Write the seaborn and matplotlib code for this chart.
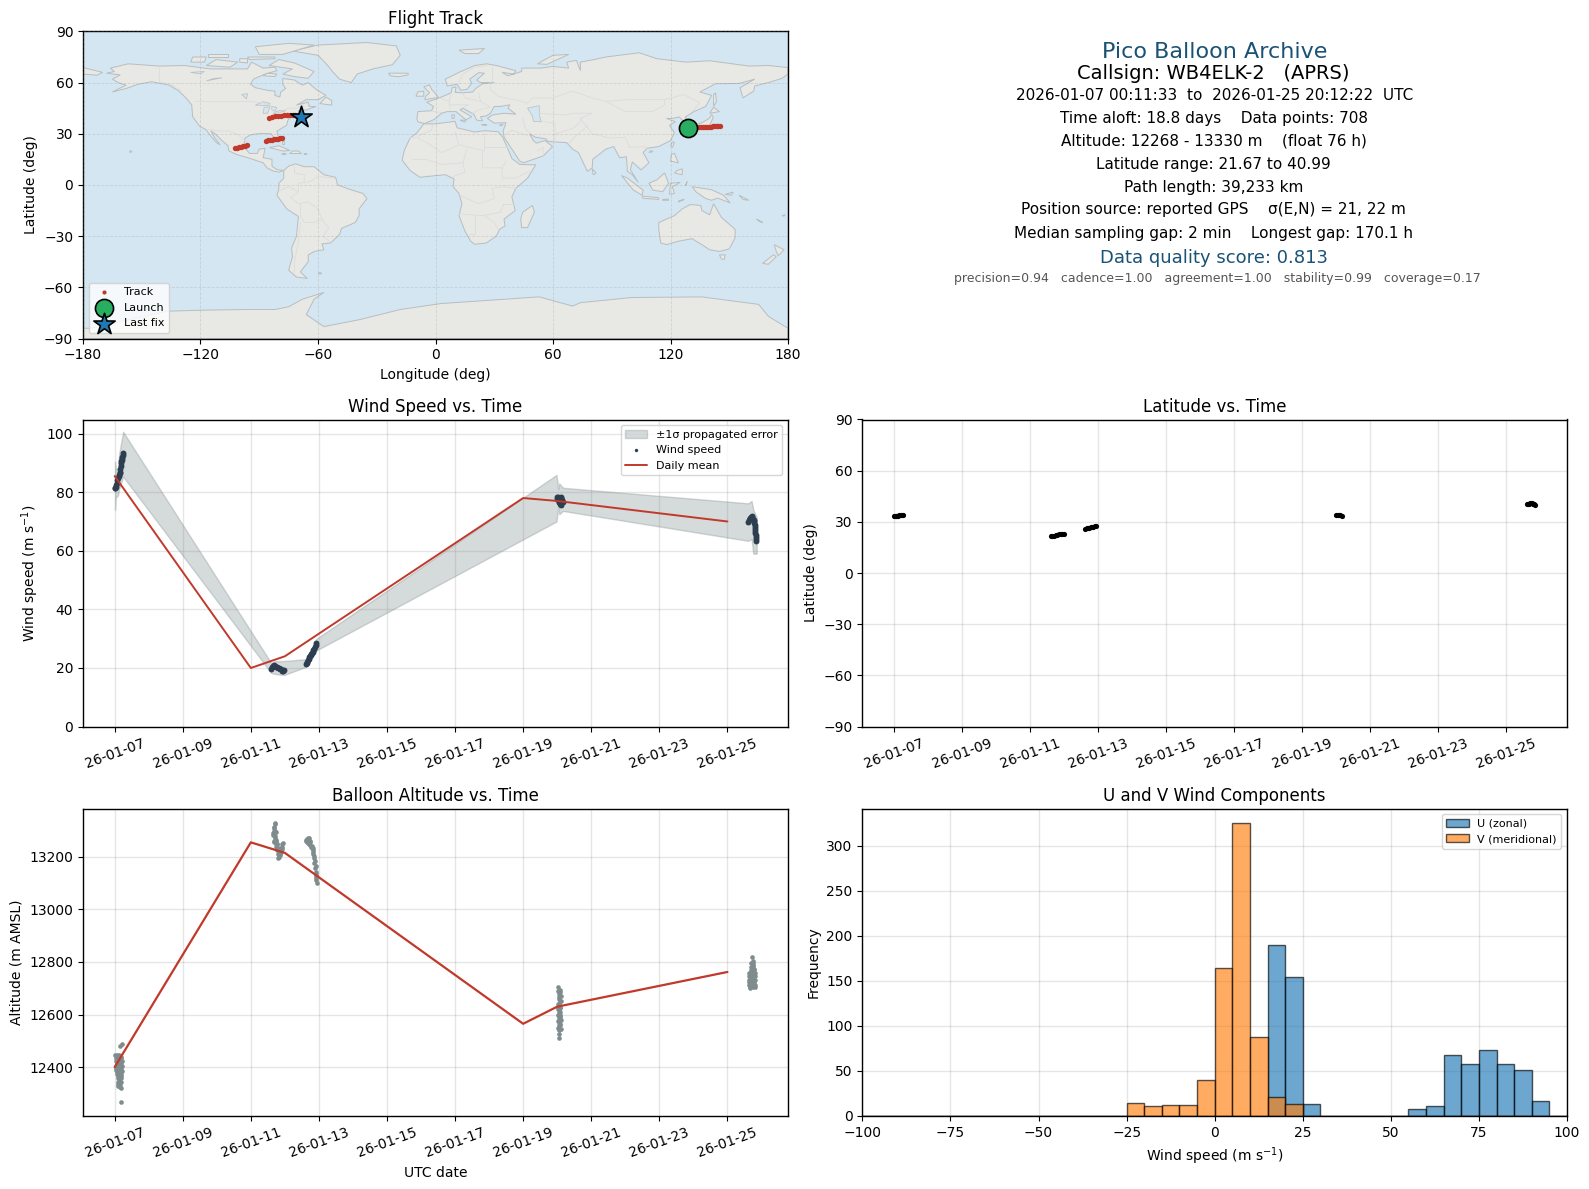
import numpy as np
import pandas as pd
import matplotlib
matplotlib.use('Agg')
import matplotlib.pyplot as plt
import matplotlib.dates as mdates
import seaborn as sns

# ---- land outlines (lon, lat) ----
north_america = [(-168,65.5),(-164,66.5),(-166,68.5),(-157,71),(-141,69.7),(-128,70),(-115,68),(-108,68),(-96,68),(-94,72),(-88,68.5),(-82,69),(-81,67),(-87,65),(-93,62),(-94.5,59),(-92,57),(-85,55.3),(-82,55),(-82,52.5),(-79.5,51.5),(-79,54.5),(-76.5,56.5),(-78,59),(-78,62.4),(-72,61.5),(-68,58.5),(-65,60),(-61,56),(-56,52.5),(-60,50),(-66,50),(-71,46.8),(-65,48.5),(-64.5,46),(-61,46),(-66,44),(-70,43.5),(-70,41.6),(-74,40.6),(-75.5,37.5),(-76,35),(-81,31.5),(-80,27),(-80.5,25.2),(-82.5,27.8),(-84,30),(-89,30.2),(-94,29.5),(-97.3,27.5),(-97.8,22.5),(-95,18.5),(-91,18.5),(-90,21),(-87,21.5),(-88,16),(-83.5,15),(-83.5,11),(-81,9),(-77.5,8.5),(-80,7.5),(-83,8.2),(-86,10),(-88,13),(-92,14.5),(-96,16),(-102,18),(-105.5,20),(-106,23),(-109.5,26.5),(-112.5,30),(-114.7,31.7),(-113,28),(-110,23.5),(-112,25),(-115,29),(-117.3,32.5),(-120.5,34.5),(-124,40),(-124.5,47),(-127,50.5),(-131,55),(-136,58.5),(-145,60.5),(-152,59),(-158,56.5),(-165,54.5),(-158,58.5),(-162,60),(-165,62),(-161,64.5)]
south_america = [(-77.5,8.5),(-75,11),(-71.5,12.4),(-67,10.7),(-62,10.7),(-57,6),(-51,4.5),(-50,0),(-44,-2.5),(-37,-5),(-35,-8),(-39,-14),(-39,-18),(-41,-22),(-48,-25.5),(-49,-29),(-53.5,-34),(-58,-34.5),(-57,-38),(-62,-39),(-65,-41),(-65,-45),(-69,-51),(-65.5,-54.8),(-71,-54),(-75,-50),(-73,-42),(-73.5,-37),(-71,-30),(-70,-18.5),(-76,-14),(-81,-6),(-80,-2.5),(-80,1),(-77.5,4)]
africa = [(-6,35.8),(0,35.8),(10,37.3),(11,33.5),(20,31),(25,31.8),(32,31.2),(34.3,28),(37,21),(39,15.5),(43,12),(51.2,11.8),(47,4),(41,-2),(39,-7),(40.7,-15),(35,-20),(35.5,-24),(32.8,-26),(31,-30),(26,-34),(20,-34.8),(18,-33),(15,-27),(12,-18),(13.5,-11),(12,-5),(9,-1),(9.5,3.5),(5,6),(-4,5),(-8,4.5),(-13,8.5),(-17,14.5),(-16,20),(-13,27.5),(-9.5,30.5)]
eurasia = [(-9,37),(-9.5,38.8),(-9,43),(-2,43.5),(-1,46),(-4.5,48.5),(1.5,50.8),(4,52),(8,54),(8.5,57),(10.5,57.5),(10,54.3),(14,54),(19,54.5),(21,57),(24,59.3),(30,60),(23,60),(21,61.5),(25,65.5),(22,65.8),(17.5,62),(18.5,59.5),(16,56),(13,55.5),(11,59),(6,58),(5,62),(12,66),(20,70),(26,71),(31,70),(41,67),(40,65),(34,66),(37,64),(44,66.5),(44,68.5),(54,68.5),(60,69.5),(68,68.5),(67,72),(72,73),(74,67),(74,72),(81,73.5),(87,75),(104,77.5),(113,74),(128,72),(140,72.8),(160,69.7),(170,70),(180,68.8),(180,65),(177,62.5),(170,60),(163,58),(162.5,55),(157,51),(155.5,57),(163,62),(155,59.5),(143,59.3),(135,54.5),(141,52.5),(138,46),(132,43),(127.5,39.8),(129.5,36),(126.5,34.5),(126.5,37.5),(124.5,39.8),(121,39),(118,39),(122.5,37),(119.5,35),(122,30.5),(120,26),(114,22.5),(108,21.5),(106,19),(109,13),(105,8.8),(100.5,13.5),(99.5,9),(103.5,1.5),(100.5,6),(98,8),(97.5,16.5),(94,16),(91,22.5),(87,21),(80.3,15),(80,10),(77.5,8),(73,19),(70,21),(67,24.8),(61,25.2),(57,25.7),(56.5,27),(51,28),(48,30),(50,26),(51.5,24.5),(56,26),(59.8,22.5),(55,17),(45,13),(43,14),(39,21),(35,28),(34.5,31.5),(36,36.5),(30,36.3),(26.5,39),(29,41),(35,42),(41,41.5),(37,45),(38,47),(33,46),(30,46),(28,42),(26,40.5),(23,40),(24,37.5),(21,38),(19.5,41.5),(14,45),(12.5,44),(18.5,40),(15.5,38.2),(10.5,43),(6,43),(3,42),(-0.5,38.5),(-5.5,36)]
australia = [(114,-22),(122,-18),(126,-14),(130,-11.5),(135.5,-12),(136,-15),(140,-17.5),(142,-11),(146,-19),(153,-26),(153,-31),(150,-37.5),(145,-39),(140,-38),(136,-35),(131,-31.5),(124,-33),(118,-35),(115,-34),(114,-26)]
antarctica = [(-180,-90),(-180,-84),(-176,-84),(-137,-74),(-119,-73.4),(-96,-73),(-82,-73),(-75,-71.4),(-68,-67),(-57,-63),(-62,-67),(-66,-76),(-57,-83),(-39,-79),(-18,-73),(3,-69.5),(53,-65.6),(70,-71),(74,-69),(100,-66),(136,-65.6),(165,-70),(170,-77),(180,-84),(180,-90)]
islands = [
    [(-73,78.5),(-60,82),(-35,83.5),(-20,81.5),(-18,76),(-22,70.5),(-32,68),(-40,65),(-43,60),(-49,62),(-53,67),(-55,70),(-60,76)],
    [(-80,73.5),(-72,71.5),(-62,66.5),(-65,62.5),(-72,63.5),(-78,65),(-73,68),(-85,70)],
    [(-117,70),(-105,69),(-101,72),(-112,73.5)],
    [(-90,76.5),(-78,76.5),(-62,82),(-75,83),(-92,81)],
    [(-125,72),(-118,72),(-117,75),(-124,75)],
    [(-96,75),(-82,75),(-82,74),(-95,73.5)],
    [(-116,75),(-106,75),(-106,76.5),(-116,76.5)],
    [(-100,72),(-96,71.5),(-96,74),(-100,74)],
    [(-88,64),(-82,63.5),(-81,65),(-86,65.5)],
    [(-59,47.7),(-53,46.8),(-53,49.5),(-56,51.5)],
    [(-84.8,21.9),(-80,23),(-74.3,20.2),(-78,19.9)],
    [(-74.4,18.4),(-68.5,18.4),(-70,19.9),(-73,19.9)],
    [(-78.5,18),(-76.3,18),(-77,18.5)],
    [(-67.2,18),(-65.6,18),(-66,18.5)],
    [(-78.5,24),(-77.5,24),(-77.5,26),(-78.5,26)],
    [(-156,19),(-155,19.5),(-156,20.2)],
    [(-60,-52),(-58,-52),(-59,-51.3)],
    [(49.5,-12),(50.5,-16),(47,-25),(44,-25),(43.5,-20),(44.5,-16)],
    [(-5.5,50),(1.5,51.3),(0,53.5),(-2,56),(-3,58.6),(-6,57.5),(-3,54),(-5,52)],
    [(-10,52),(-6,52),(-6,55),(-9,54.5)],
    [(-24,65.5),(-14,65.5),(-14,64.5),(-19,63.4),(-23,64)],
    [(12,79),(25,80),(22,77),(15,77)],
    [(52,71),(57,70.7),(68,76.5),(60,76)],
    [(12.5,38),(15.5,38),(15,36.8)],
    [(8.3,41),(9.7,41),(9.5,39),(8.5,39)],
    [(23.5,35.3),(26.3,35.2),(25,35.1)],
    [(32.5,35),(34.5,35.6),(33.8,34.8)],
    [(130.5,33.5),(135,33.5),(140,35),(141.8,39.5),(141,41.3),(139.8,39),(136,36.5),(131,34.5)],
    [(140,42),(145,43),(142,45.5)],
    [(142,46),(143.5,49),(143,54),(142,53)],
    [(120,23),(121,22),(122,25),(121,25.2)],
    [(109,19),(111,19.5),(110,20.2)],
    [(120,14),(124,13),(122,18.5),(120.5,18)],
    [(122,7),(126,6),(126,9.5),(123.5,8.5)],
    [(109,1),(111,-3),(116,-4),(119,1),(117,7),(113,3)],
    [(95,5.5),(98,4),(106,-3),(105.5,-6),(101,-3)],
    [(105.5,-6.5),(114,-7.5),(114,-8.5),(106,-7.8)],
    [(116,-8.5),(119,-8.3),(119,-9),(116,-9)],
    [(124,-10),(127,-8.5),(124.5,-9.2)],
    [(119.5,-5.5),(120,1),(125,1.5),(121,-1),(122,-5)],
    [(127.5,-0.5),(128.5,2),(128,0)],
    [(131,-1),(141,-2.8),(147,-6),(150.5,-10.5),(144,-7.7),(141,-9),(138,-8),(133,-4)],
    [(148,-5.5),(152,-4.2),(151,-6)],
    [(155,-6),(160,-9),(157,-8.5)],
    [(164,-20),(167,-22),(165.5,-21.5)],
    [(177,-18),(178.6,-17.5),(178,-18.3)],
    [(145,-41),(148,-41),(147.5,-43.5),(146,-43.5)],
    [(173,-35),(178,-38),(175,-41.5),(174,-39)],
    [(172.5,-41),(174,-42),(170,-46.5),(167,-46)],
    [(80,9.5),(82,7),(80.5,6)],
    [(-180,68.8),(-170,66),(-173,64.3),(-180,65)],
]
lakes = [
    [(-92,46.8),(-85,46.5),(-84.5,47.8),(-88,48.8)],
    [(-88,42),(-85.8,42),(-84.5,45.8),(-87.5,45.5)],
    [(-84,46),(-81,45.5),(-82,43.2),(-83.5,44)],
    [(-83,41.6),(-79,42.7),(-76.5,43.5),(-79.5,43.7),(-82,42.6)],
    [(-99,53),(-96.5,50.5),(-96,53.5)],
    [(-125,66),(-118,66.5),(-120,65)],
    [(-117,61),(-109,62.8),(-113,62.5)],
    [(47,45),(53,46.5),(53,41),(54,37),(50,37.3),(49.5,40.5)],
]
borders = [
    [(-123,49),(-95,49),(-88,48),(-84,46.5),(-82.5,42),(-79,43),(-75,45),(-71,45),(-67.5,47),(-67,45)],
    [(-141,69.7),(-141,60.3),(-135,59),(-130,55)],
    [(-117,32.5),(-108,31.5),(-106,31.7),(-101,29.5),(-97.3,26)],
    [(-51.5,4),(-60,5),(-64,2),(-70,1),(-70,-4),(-74,-7.5),(-70,-11),(-65,-10),(-60,-14),(-58,-20),(-54.5,-25.5),(-57.5,-30),(-53.5,-33.5)],
    [(-69,-22),(-70,-33),(-72,-45),(-72,-52)],
    [(-69,-11),(-69,-18),(-67,-22),(-62,-22),(-58,-20)],
    [(-72,12),(-72,7),(-67,6),(-67,1)],
    [(-80,-3.5),(-75,-1),(-70,-4)],
    [(-13,27.7),(-8.7,27.7),(-8.7,29),(-2,32),(-1.5,35)],
    [(-8.7,27),(-4.5,25),(3,19),(12,23.5),(10,31)],
    [(12,23.5),(25,20),(25,31.5)],
    [(25,22),(37,22)],
    [(16,21),(14,13),(3,12),(-5,15),(-12,15)],
    [(24,20),(24,10),(34,10),(36,14)],
    [(14,13),(15,7.5),(9,5)],
    [(29,-2),(30,-8),(22,-11),(12.5,-6)],
    [(34,10),(34,4),(41,4),(48,8)],
    [(29,-2),(34,-1),(41,-2)],
    [(34,-11),(40,-11)],
    [(12,-17),(24,-18),(33,-16),(35,-11)],
    [(20,-18),(20,-28.5),(17,-28.5)],
    [(25,-18),(30,-22),(32,-26)],
    [(28,60),(28,56),(32,52),(40,50),(47,48),(50,51),(60,51),(70,55),(80,51),(87,49),(98,50),(107,50),(117,50),(127,53),(135,48),(131,43)],
    [(87,49),(97,43),(111,43),(117,47),(117,50)],
    [(74,39),(80,30),(89,27.5),(97,28),(99,22),(106,22.5),(108,21.5)],
    [(61,30),(70,33),(74,37),(74,39)],
    [(68,24),(71,28),(75,32),(78,35)],
    [(44.5,39),(46,33),(48.5,30)],
    [(61,25),(61,36),(54,37.5)],
    [(53,42),(66,41),(70,42),(80,42),(74,39)],
    [(35,29),(39,32),(47,29)],
    [(52,20),(55,22),(55,17)],
    [(-2,43.3),(3,42.4)],
    [(2,51),(7,49),(7.5,44)],
    [(7,49),(8,54)],
    [(14,54),(15,51),(23,49),(22,54)],
    [(23,49),(28,45.5),(22,44),(19,42)],
    [(7.5,47),(17,47),(14,45.5)],
    [(11.5,59),(14,65),(20,69),(26,70)],
    [(29,61),(29,69)],
]

# ---- flight track ----
track_lon = [129.5,130.5,131.5,132.5,133.5,134.5,135.5,136.5,137.5,138.5,139.5,140.5,141.5,142.5,143.5,144.5,145.5,
             -102.4,-101.4,-100.4,-99.4,-98.4,-97.4,-96.4,
             -86.4,-85.4,-84.4,-83.4,-82.4,-81.4,-80.4,-79.4,-78.6,
             -84.8,-83.5,-82,-80.5,-79,-77.5,-76,-74.5,-73,-71.5,-70,-69]
track_lat = [33.6,33.7,33.8,33.8,33.9,34.0,34.0,34.1,34.1,34.2,34.2,34.2,34.3,34.3,34.4,34.4,34.3,
             21.7,21.9,22.2,22.5,22.8,23.1,23.5,
             26.0,26.2,26.4,26.5,26.7,26.9,27.1,27.3,27.6,
             39.4,39.8,40.2,40.5,40.7,40.8,40.9,40.9,41.0,41.0,40.5,40.2]
launch_lon, launch_lat = [128.8], [33.4]
last_lon, last_lat = [-68.8], [40.0]

# ---- wind speed ----
wind_t = [7.01,7.02,7.03,7.05,7.06,7.08,7.10,7.12,7.13,7.15,7.16,7.17,7.18,7.19,7.20,7.21,7.22,7.23,7.24,7.25,
          11.60,11.63,11.66,11.68,11.71,11.74,11.77,11.80,11.83,11.86,11.89,11.92,11.95,11.98,
          12.62,12.64,12.66,12.68,12.70,12.72,12.74,12.76,12.78,12.80,12.82,12.84,12.86,12.88,12.90,12.92,
          19.98,20.0,20.02,20.04,20.06,20.08,20.10,20.12,20.14,20.16,20.06,20.08,20.10,20.04,20.12,
          25.61,25.63,25.65,25.67,25.69,25.71,25.73,25.75,25.77,25.78,25.79,25.80,25.81,25.81,25.82,25.82,25.83,25.83,25.84,25.84]
wind_v = [81.3,81.5,81.8,82.5,83,84,85,85.5,86,86.5,87,88,89,90,90.5,91,91.5,92,92.8,93.5,
          19.6,20.2,20.7,21,20.8,20.4,20.2,20,20,19.8,19.5,19.1,19,19.3,
          21.3,21.8,22.2,22.7,23.1,23.6,24,24.3,24.8,25.2,25.6,26,26.5,27,27.7,28.4,
          77.5,78.2,78.4,78.0,77.8,78.1,78.3,77.9,77.4,76.8,76.5,75.9,75.5,76.8,76.4,
          69.8,70.4,70.9,71.3,71.6,71.7,71.5,71.0,70.5,70,69.4,68.7,68,67.3,66.6,66,65.4,64.8,64,63.2]
band_t = [7.01,7.03,7.10,7.13,7.25,11.60,11.70,11.98,12.62,12.93,19.98,20.03,20.06,20.17,25.61,25.71,25.76,25.86]
band_hi = [90.4,88,88,93,100.6,21.7,22.3,22.4,23,30,85.9,81,83,81.5,76.2,77,74,71.5]
band_lo = [73.9,78,79,81,85.3,18.3,18,17.6,20.4,26,70,75,72.5,73.6,63.4,64,59,59]

# daily means
day_t = [7,11,12,19,20,25]
day_wind = [85.5,20,24,78,77,70]
day_alt = [12400,13255,13215,12565,12630,12762]

# ---- latitude ----
lat_t = [7.01,7.04,7.07,7.10,7.13,7.16,7.19,7.22,7.25,
         11.60,11.65,11.70,11.75,11.80,11.85,11.90,11.95,11.99,
         12.62,12.66,12.70,12.74,12.78,12.82,12.86,12.90,12.93,
         20.0,20.04,20.08,20.12,20.17,
         25.61,25.64,25.67,25.70,25.73,25.76,25.79,25.82,25.85]
lat_v = [33.3,33.4,33.5,33.6,33.7,33.8,33.8,33.9,34.0,
         21.67,21.8,22.0,22.2,22.4,22.6,22.8,23.0,23.1,
         26.0,26.2,26.4,26.6,26.8,27.0,27.2,27.4,27.6,
         34.3,34.2,34.0,33.9,33.7,
         40.2,40.5,40.7,40.9,40.99,40.9,40.7,40.4,40.1]

# ---- altitude ----
alt_t = [7.02,7.08,7.14,7.20,7.03,7.10,7.17,7.22,7.03,7.09,7.15,7.21,7.05,7.11,7.17,7.23,7.07,7.13,7.19,7.09,7.15,7.20,7.09,7.14,7.19,7.11,7.17,7.15,7.21,7.18,7.2,
         7.04,7.12,7.18,7.06,7.13,7.19,7.05,7.12,7.19,7.08,7.16,7.10,7.18,7.13,7.11,7.16,
         11.70,11.70,11.68,11.67,11.65,11.68,11.71,11.67,11.71,11.73,11.75,11.78,11.80,11.82,11.85,11.89,11.87,11.80,11.94,11.92,11.75,11.75,
         11.68,11.72,11.66,11.70,11.69,11.73,11.76,11.78,11.83,11.86,11.88,11.83,11.80,11.78,11.90,11.93,11.93,
         12.61,12.65,12.71,12.73,12.68,12.75,12.81,12.83,12.84,12.85,12.87,12.89,12.90,12.91,12.92,12.93,
         12.63,12.67,12.70,12.72,12.76,12.79,12.82,12.84,12.86,12.88,12.90,12.92,12.92,12.66,12.74,
         20.03,20.07,20.05,20.1,20.04,20.08,20.03,20.07,20.05,20.09,20.02,20.06,20.1,20.04,20.08,20.03,20.07,20.05,20.06,20.04,20.06,
         20.02,20.08,20.04,20.1,20.03,20.09,20.05,20.07,20.02,20.09,20.04,20.08,20.06,20.1,20.02,20.08,
         25.72,25.76,25.74,25.70,25.78,25.72,25.76,25.66,25.70,25.74,25.78,25.64,25.68,25.72,25.76,25.80,25.62,25.68,25.74,25.80,25.62,25.70,25.76,25.82,25.65,
         25.70,25.74,25.68,25.76,25.64,25.72,25.78,25.66,25.74,25.80,25.63,25.70,25.78,25.66,25.74,25.81,25.68]
alt_v = [12445,12445,12445,12440,12425,12425,12425,12425,12405,12405,12405,12405,12390,12390,12390,12385,12375,12375,12375,12360,12360,12360,12345,12345,12345,12335,12335,12480,12488,12320,12268,
         12435,12435,12435,12415,12415,12415,12397,12397,12397,12382,12382,12368,12368,12352,12328,12325,
         13330,13323,13314,13298,13283,13283,13270,13258,13255,13248,13239,13233,13232,13220,13220,13220,13208,13195,13252,13239,13264,13296,
         13310,13300,13290,13280,13262,13262,13250,13225,13225,13210,13232,13200,13210,13250,13225,13250,13228,
         13260,13268,13273,13258,13252,13245,13243,13226,13210,13195,13176,13157,13142,13126,13113,13101,
         13265,13270,13262,13248,13238,13235,13235,13218,13202,13185,13165,13135,13120,13258,13262,
         12705,12695,12680,12670,12660,12650,12640,12630,12620,12610,12600,12590,12580,12570,12560,12550,12580,12540,12525,12510,12640,
         12690,12685,12665,12650,12630,12625,12610,12595,12620,12590,12580,12565,12560,12545,12575,12600,
         12820,12805,12790,12780,12775,12765,12765,12755,12755,12755,12755,12745,12745,12745,12745,12745,12730,12730,12730,12730,12712,12712,12712,12712,12700,
         12795,12795,12770,12785,12760,12775,12770,12735,12770,12760,12722,12722,12722,12705,12705,12705,12740]

# ---- histogram ----
hist_edges = list(range(-100, 105, 5))
u_bins = [15,20,25,55,60,65,70,75,80,85,90]
u_counts = [190,154,13,7,11,68,58,73,58,51,16]
v_bins = [-25,-20,-15,-10,-5,0,5,10,15,20]
v_counts = [14,11,12,12,40,164,325,87,21,13]

tick_days = [7,9,11,13,15,17,19,21,23,25]
summary_lines = [
    ('Pico Balloon Archive', 16, '#1a5276', 51, 0),
    ('Callsign: WB4ELK-2   (APRS)', 14, 'black', 73, -1),
    ('2026-01-07 00:11:33  to  2026-01-25 20:12:22  UTC', 11, 'black', 94, 0),
    ('Time aloft: 18.8 days    Data points: 708', 11, 'black', 117, -1),
    ('Altitude: 12268 - 13330 m    (float 76 h)', 11, 'black', 139, -1),
    ('Latitude range: 21.67 to 40.99', 11, 'black', 162, -1),
    ('Path length: 39,233 km', 11, 'black', 185, -1),
    ('Position source: reported GPS    σ(E,N) = 21, 22 m', 11, 'black', 207, -1),
    ('Median sampling gap: 2 min    Longest gap: 170.1 h', 11, 'black', 230, -1),
    ('Data quality score: 0.813', 13, '#1a5276', 255, -1),
    ('precision=0.94   cadence=1.00   agreement=1.00   stability=0.99   coverage=0.17', 9, '#555555', 275, 3),
]


def jan(days):
    return pd.Timestamp('2026-01-01') + pd.to_timedelta(np.array(days, dtype=float) - 1, unit='D')


def panel(x0, y0, x1, y1):
    return fig.add_axes([x0 / 1589, 1 - y1 / 1189, (x1 - x0) / 1589, (y1 - y0) / 1189])


def date_axis(ax):
    ax.set_xticks(jan(tick_days))
    ax.xaxis.set_major_formatter(mdates.DateFormatter('%y-%m-%d'))
    ax.tick_params(axis='x', labelrotation=20)
    ax.set_xlim(jan([6.07])[0], jan([26.78])[0])
    ax.set_xlabel('')


sns.set_theme(style='ticks', rc={
    'axes.edgecolor': 'black', 'axes.linewidth': 1, 'axes.labelsize': 10, 'axes.titlesize': 12,
    'axes.titlepad': 5.3, 'xtick.labelsize': 10, 'ytick.labelsize': 10, 'xtick.color': 'black',
    'ytick.color': 'black', 'axes.labelcolor': 'black', 'text.color': 'black', 'axes.grid': False,
    'axes.axisbelow': True, 'xtick.major.size': 3.5, 'ytick.major.size': 3.5, 'xtick.major.width': .8,
    'ytick.major.width': .8, 'legend.fontsize': 8,
})
plt.rcParams['font.family'] = ['DejaVu Sans']

fig = plt.figure(figsize=(15.89, 11.89), dpi=100)
ax_map = panel(83, 31.4, 788, 338.5)
ax_txt = panel(862.4, 31.4, 1567, 338.5)
ax_wind = panel(83, 419.5, 788, 726.6)
ax_lat = panel(862.4, 419.5, 1567, 726.6)
ax_alt = panel(83, 808.7, 788, 1115.8)
ax_hist = panel(862.4, 808.7, 1567, 1115.8)

# Flight track
ax_map.set_facecolor('#d4e6f1')
for shape in [north_america, south_america, africa, eurasia, australia, antarctica] + islands:
    lon, lat = zip(*shape)
    ax_map.fill(lon, lat, facecolor='#e8e8e4', edgecolor='#b8bec0', lw=0.7, zorder=1)
for shape in lakes:
    lon, lat = zip(*shape)
    ax_map.fill(lon, lat, facecolor='#d4e6f1', edgecolor='#b8bec0', lw=0.5, zorder=1.1)
for shape in borders:
    lon, lat = zip(*shape)
    ax_map.plot(lon, lat, color='#dcdddb', lw=0.6, zorder=1.2)
ax_map.grid(True, color='gray', alpha=.22, lw=.6, ls='--')
ax_map.set_axisbelow(False)
sns.scatterplot(x=track_lon, y=track_lat, color='#c0392b', s=15, linewidth=0, label='Track', ax=ax_map, zorder=3)
sns.scatterplot(x=launch_lon, y=launch_lat, color='#27ae60', s=170, edgecolor='black', linewidth=1.2, label='Launch', ax=ax_map, zorder=4)
sns.scatterplot(x=last_lon, y=last_lat, color='#1f77b4', s=260, marker='*', edgecolor='black', linewidth=1.2, label='Last fix', ax=ax_map, zorder=5)
ax_map.set_xlim(-180, 180)
ax_map.set_ylim(-90, 90)
ax_map.set_xticks(range(-180, 181, 60))
ax_map.set_yticks(range(-90, 91, 30))
ax_map.set_xlabel('Longitude (deg)')
ax_map.set_ylabel('Latitude (deg)')
ax_map.set_title('Flight Track')
map_legend = ax_map.legend(loc='lower left', fontsize=8, framealpha=.8)
map_legend.legend_handles[0].set_sizes([9])

# Summary text
ax_txt.axis('off')
for text, size, colour, ypix, xshift in summary_lines:
    ax_txt.text(.5 + xshift / 704.6, 1 - (ypix * 1.0134 - 31.4) / 307.1, text, fontsize=size, color=colour,
                ha='center', va='center', transform=ax_txt.transAxes)

# Wind speed
ax_wind.fill_between(jan(band_t), band_lo, band_hi, color='#7f8c8d', alpha=.32, label='±1σ propagated error')
sns.scatterplot(x=jan(wind_t), y=wind_v, color='#2c3e50', s=18, linewidth=0, label='Wind speed', ax=ax_wind)
sns.lineplot(x=jan(day_t), y=day_wind, color='#c0392b', lw=1.4, estimator=None, errorbar=None, label='Daily mean', ax=ax_wind)
ax_wind.grid(True, color='gray', alpha=.2)
ax_wind.set_ylim(0, 104.8)
date_axis(ax_wind)
ax_wind.set_ylabel('Wind speed (m s$^{-1}$)')
ax_wind.set_title('Wind Speed vs. Time')
wind_legend = ax_wind.legend(loc='upper right', fontsize=8)
wind_legend.legend_handles[1].set_sizes([6])

# Latitude
sns.scatterplot(x=jan(lat_t), y=lat_v, color='black', s=14, linewidth=0, ax=ax_lat)
ax_lat.grid(True, color='gray', alpha=.2)
ax_lat.set_ylim(-90, 90)
ax_lat.set_yticks(range(-90, 91, 30))
date_axis(ax_lat)
ax_lat.set_ylabel('Latitude (deg)')
ax_lat.set_title('Latitude vs. Time')

# Altitude
sns.scatterplot(x=jan(alt_t), y=alt_v, color='#7f8c8d', s=11, linewidth=0, ax=ax_alt)
sns.lineplot(x=jan(day_t), y=day_alt, color='#c0392b', lw=1.6, estimator=None, errorbar=None, ax=ax_alt)
ax_alt.grid(True, color='gray', alpha=.2)
ax_alt.set_ylim(12215, 13383)
ax_alt.set_yticks([12400, 12600, 12800, 13000, 13200])
date_axis(ax_alt)
ax_alt.set_xlabel('UTC date')
ax_alt.set_ylabel('Altitude (m AMSL)')
ax_alt.set_title('Balloon Altitude vs. Time')

# U and V histogram
sns.histplot(x=np.array(u_bins) + 2.5, weights=u_counts, bins=hist_edges, color='#1f77b4', alpha=.65,
             edgecolor=(0, 0, 0, .65), linewidth=1, label='U (zonal)', ax=ax_hist)
sns.histplot(x=np.array(v_bins) + 2.5, weights=v_counts, bins=hist_edges, color='#ff7f0e', alpha=.65,
             edgecolor=(0, 0, 0, .65), linewidth=1, label='V (meridional)', ax=ax_hist)
ax_hist.grid(True, color='gray', alpha=.2)
ax_hist.set_xlim(-100, 100)
ax_hist.set_ylim(0, 341)
ax_hist.set_xlabel('Wind speed (m s$^{-1}$)')
ax_hist.set_ylabel('Frequency')
ax_hist.set_title('U and V Wind Components')
ax_hist.legend(loc='upper right', fontsize=8)

fig.savefig('out.png', dpi=100)
